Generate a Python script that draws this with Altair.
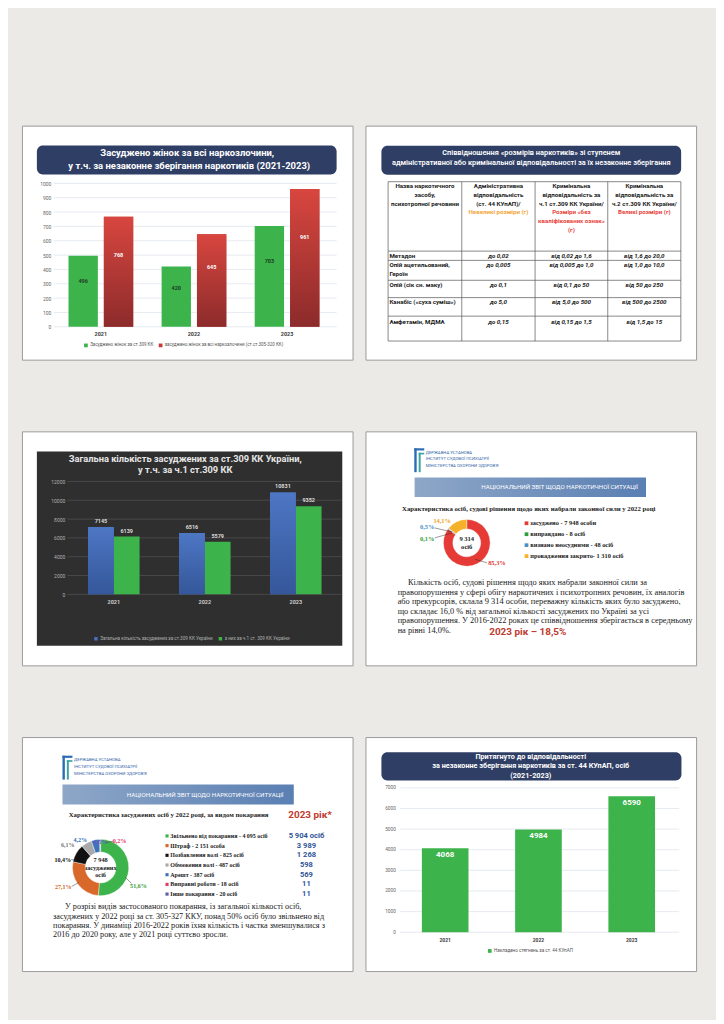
import altair as alt
import pandas as pd

SANS = "Roboto"
SERIF = "Liberation Serif"
NAVY = "#2f3e64"
W, H = 332, 235

# ------------------------------------------------------------------ data
years = ["2021", "2022", "2023"]

# slide 1
s1_title = ["Засуджено жінок за всі наркозлочини,",
            "у т.ч. за незаконне зберігання наркотиків (2021-2023)"]
s1_series = ["Засуджено жінок за ст.309 КК",
             "засуджено жінок за всі наркозлочини  (ст.ст.305-320 КК)"]
s1_green = [496, 420, 703]
s1_red = [768, 645, 961]
s1_ticks = [0, 100, 200, 300, 400, 500, 600, 700, 800, 900, 1000]

# slide 2
s2_title = ["Співвідношення «розмірів наркотиків» зі ступенем",
            "адміністративної або кримінальної відповідальності за їх незаконне зберігання"]
s2_head1 = ["Назва наркотичного", "засобу,", "психотропної речовини"]
s2_head2 = ["Адміністративна", "відповідальність", "(ст. 44 КУпАП)/", "Невеликі розміри (г)"]
s2_head3 = ["Кримінальна", "відповідальність за", "ч.1 ст.309 КК України/",
            "Розміри «без", "кваліфікованих ознак»", "(г)"]
s2_head4 = ["Кримінальна", "відповідальність за", "ч.2 ст.309 КК України/", "Великі розміри (г)"]
s2_subst = [["Метадон"], ["Опій ацетильований,", "Героїн"], ["Опій (сік сн. маку)"],
            ["Канабіс («суха суміш»)"], ["Амфетамін, МДМА"]]
s2_adm = ["до 0,02", "до 0,005", "до 0,1", "до 5,0", "до 0,15"]
s2_crim1 = ["від 0,02 до 1,6", "від 0,005 до 1,0", "від  0,1 до 50", "від  5,0 до 500", "від 0,15 до 1,5"]
s2_crim2 = ["від 1,6 до 20,0", "від 1,0 до 10,0", "від 50 до 250", "від 500 до 2500", "від 1,5 до 15"]

# slide 3
s3_title = ["Загальна кількість засуджених за ст.309 КК України,", "у т.ч. за ч.1 ст.309  КК"]
s3_series = ["Загальна кількість засуджених за ст.309 КК України", "з них за ч.1 ст. 309 КК України"]
s3_total = [7145, 6516, 10831]
s3_part1 = [6139, 5579, 9352]
s3_ticks = [0, 2000, 4000, 6000, 8000, 10000, 12000]

# slides 4 and 5 (report pages)
logo_lines = ["ДЕРЖАВНА УСТАНОВА", "ІНСТИТУТ СУДОВОЇ ПСИХІАТРІЇ", "МІНІСТЕРСТВА ОХОРОНИ ЗДОРОВ'Я"]
report_banner = "НАЦІОНАЛЬНИЙ ЗВІТ ЩОДО НАРКОТИЧНОЇ СИТУАЦІЇ"

s4_heading = "Характеристика осіб, судові рішення щодо яких набрали законної сили у 2022 році"
s4_cats = ["засуджено - 7 948 особи", "виправдано - 8 осіб",
           "визнано неосудними - 48 осіб", "провадження закрито- 1 310 осіб"]
s4_counts = [7948, 8, 48, 1310]
s4_pct = ["85,3%", "0,1%", "0,5%", "14,1%"]
s4_center = ["9 314", "осіб"]
s4_para = [
    "Кількість осіб, судові рішення щодо яких набрали законної сили за",
    "правопорушення у сфері обігу наркотичних і психотропних речовин, їх аналогів",
    "або прекурсорів, склала 9 314 особи, переважну кількість яких було засуджено,",
    "що складає 16,0 % від загальної кількості засуджених по Україні за усі",
    "правопорушення. У 2016-2022 роках це співвідношення зберігається в середньому",
    "на рівні 14,0%.",
]
s4_highlight = "2023 рік – 18,5%"

s5_heading = "Характеристика засуджених осіб у 2022 році, за видом покарання"
s5_badge = "2023 рік*"
s5_cats = ["Звільнено від покарання - 4 095 осіб", "Штраф - 2 151 особа",
           "Позбавлення волі - 825 осіб", "Обмеження волі - 487 осіб", "Арешт - 387 осіб",
           "Виправні роботи - 18 осіб", "Інше покарання - 20 осіб"]
s5_counts = [4095, 2151, 825, 487, 387, 18, 20]
s5_pct = ["51,6%", "27,1%", "10,4%", "6,1%", "4,2%", "0,2%", "0,5%"]
s5_2023 = ["5 904 осіб", "3 989", "1 268", "598", "569", "11", "11"]
s5_center = ["7 948", "засуджених", "осіб"]
s5_para = [
    "У розрізі видів застосованого покарання, із загальної кількості осіб,",
    "засуджених у 2022 році за ст. 305-327 ККУ, понад 50% осіб було звільнено від",
    "покарання. У динаміці 2016-2022 років їхня кількість і частка зменшувалися з",
    "2016 до 2020 року, але у 2021 році суттєво зросли.",
]

# slide 6
s6_title = ["Притягнуто до відповідальності",
            "за  незаконне зберігання наркотиків за ст. 44  КУпАП, осіб", "(2021-2023)"]
s6_series = ["Накладено стягнень за ст. 44 КУпАП"]
s6_values = [4068, 4984, 6590]
s6_ticks = [0, 1000, 2000, 3000, 4000, 5000, 6000, 7000]

# ------------------------------------------------------------------ helpers
ONE = pd.DataFrame({"k": [0]})


def txt(x, y, s, size=6.0, color="#222222", font=SANS, weight="normal", align="center", style="normal"):
    return alt.Chart(ONE).mark_text(
        fontSize=size, color=color, font=font, fontWeight=weight, align=align,
        baseline="middle", fontStyle=style
    ).encode(x=alt.value(x), y=alt.value(y), text=alt.value(s))


def box(x, x2, y, y2, color, **kw):
    return alt.Chart(ONE).mark_rect(color=color, **kw).encode(
        x=alt.value(x), x2=alt.value(x2), y=alt.value(y), y2=alt.value(y2))


def line(x, x2, y, y2, color="#444444", w=0.6):
    return alt.Chart(ONE).mark_rule(color=color, strokeWidth=w).encode(
        x=alt.value(x), x2=alt.value(x2), y=alt.value(y), y2=alt.value(y2))


def vgrad(c0, c1):
    return alt.Gradient(gradient="linear", x1=0, x2=0, y1=0, y2=1,
                        stops=[alt.GradientStop(color=c0, offset=0), alt.GradientStop(color=c1, offset=1)])


def hgrad(c0, c1):
    return alt.Gradient(gradient="linear", x1=0, x2=1, y1=0, y2=0,
                        stops=[alt.GradientStop(color=c0, offset=0), alt.GradientStop(color=c1, offset=1)])


# ------------------------------------------------------------------ slide 1
df1 = pd.DataFrame({"year": years * 2,
                    "series": [s1_series[0]] * 3 + [s1_series[1]] * 3,
                    "value": s1_green + s1_red})
g1 = pd.DataFrame({"t": s1_ticks})
xs1 = alt.Scale(domain=years, range=[32.5, 313], paddingInner=0.305, paddingOuter=0.1525)
xos1 = alt.Scale(domain=s1_series, paddingInner=0.17, paddingOuter=0)
ys1 = alt.Scale(domain=[0, 1000], range=[202, 58], nice=False)
xax1 = alt.Axis(orient="bottom", offset=-30, domain=False, ticks=False, labelPadding=1.5,
                labelFontSize=5.5, labelFontWeight="bold", labelColor="#404040", labelFont=SANS,
                labelAngle=0, title=None, grid=False, zindex=1)
yax1 = alt.Axis(orient="left", offset=-31, values=s1_ticks, format="d", domain=False, ticks=False,
                grid=False, labelPadding=2, labelFontSize=5, labelColor="#666666", labelFont=SANS,
                title=None, zindex=1)
X1 = alt.X("year:N", scale=xs1, axis=xax1)
XO1 = alt.XOffset("series:N", scale=xos1)
Y1 = alt.Y("value:Q", scale=ys1, axis=yax1)

s1_layers = [
    box(15, 316, 20, 49, NAVY, cornerRadius=6),
    txt(166, 27.5, s1_title[0], 9.5, "white", weight="bold"),
    txt(168, 40.5, s1_title[1], 9.5, "white", weight="bold"),
    alt.Chart(g1).mark_rule(color="#d5dbe8", strokeWidth=0.6).encode(
        y=alt.Y("t:Q", scale=ys1, axis=yax1), x=alt.value(32), x2=alt.value(316)),
    alt.Chart(df1).mark_bar().encode(
        x=X1, xOffset=XO1, y=Y1,
        color=alt.Color("series:N", scale=alt.Scale(domain=s1_series, range=["#3cb44b", "#c63b36"]),
                        legend=alt.Legend(orient="none", legendX=62, legendY=218, direction="horizontal",
                                          title=None, symbolType="square", symbolSize=14,
                                          symbolStrokeWidth=0, labelFontSize=4.5, labelColor="#555555",
                                          labelFont=SANS, columnPadding=4, labelLimit=0, labelOffset=2))),
    alt.Chart(df1).transform_filter(alt.datum.series == s1_series[1]).mark_bar(
        color=vgrad("#d8463f", "#8c2b2b")).encode(x=X1, xOffset=XO1, y=Y1),
    alt.Chart(df1).transform_calculate(ly="datum.value * 0.65").mark_text(
        font=SANS, fontSize=5.5, fontWeight="bold").encode(
        x=X1, xOffset=XO1, y=alt.Y("ly:Q", scale=ys1, axis=yax1), text="value:Q",
        fill=alt.Fill("series:N", scale=alt.Scale(domain=s1_series, range=["#1e3b23", "#ffffff"]),
                      legend=None)),
]
slide1 = alt.layer(*s1_layers).properties(width=W, height=H)

# ------------------------------------------------------------------ slide 2
ORANGE = "#f2a73b"
RED = "#e8423a"
col_x = [22.7, 96.7, 170.3, 243.3, 316.7]
row_y = [56.3, 126, 135.3, 155.3, 172.7, 191.3, 216.3]
HEAD_Y0, HEAD_LH = 60.5, 8.9
BODY_Y = [130.6, 140.3, 160.3, 177, 197]

s2_layers = [box(16, 317, 20.3, 49.3, NAVY, cornerRadius=6),
             txt(166.5, 27.5, s2_title[0], 7.4, "white", weight=600),
             txt(166.5, 37.5, s2_title[1], 7.4, "white", weight=600)]
for xv in col_x:
    s2_layers.append(line(xv, xv, row_y[0], row_y[-1], "#555555", 0.7))
for yv in row_y:
    s2_layers.append(line(col_x[0], col_x[-1], yv, yv, "#555555", 0.7))
for c, lines in enumerate([s2_head1, s2_head2, s2_head3, s2_head4]):
    cx = (col_x[c] + col_x[c + 1]) / 2
    for i, s in enumerate(lines):
        color = "#1a1a1a"
        if c == 1 and i >= 3:
            color = ORANGE
        if c >= 2 and i >= 3:
            color = RED
        s2_layers.append(txt(cx, HEAD_Y0 + i * HEAD_LH, s, 6.2, color, weight="bold"))
for r in range(5):
    yb = BODY_Y[r]
    for j, s in enumerate(s2_subst[r]):
        s2_layers.append(txt(24, yb + j * 8.4, s, 6.2, "#1a1a1a", weight="bold", align="left"))
    for c, arr in enumerate([s2_adm, s2_crim1, s2_crim2]):
        cx = (col_x[c + 1] + col_x[c + 2]) / 2
        s2_layers.append(txt(cx, yb, arr[r], 6.2, "#1a1a1a", weight="bold", style="italic"))
slide2 = alt.layer(*s2_layers).properties(width=W, height=H)

# ------------------------------------------------------------------ slide 3
df3 = pd.DataFrame({"year": years * 2,
                    "series": [s3_series[0]] * 3 + [s3_series[1]] * 3,
                    "value": s3_total + s3_part1})
g3 = pd.DataFrame({"t": s3_ticks})
xs3 = alt.Scale(domain=years, range=[46.6, 320.7], paddingInner=0.434, paddingOuter=0.217)
xos3 = alt.Scale(domain=s3_series, paddingInner=0, paddingOuter=0)
ys3 = alt.Scale(domain=[0, 12000], range=[163.7, 50.3], nice=False)
xax3 = alt.Axis(orient="bottom", offset=-71, domain=False, ticks=False, labelPadding=4.5,
                labelFontSize=5.5, labelFontWeight="bold", labelColor="#c8c8c8", labelFont=SANS,
                labelAngle=0, title=None, grid=False, zindex=1)
yax3 = alt.Axis(orient="left", offset=-45, values=s3_ticks, format="d", domain=False, ticks=False,
                grid=False, labelPadding=2, labelFontSize=5, labelColor="#b0b0b0", labelFont=SANS,
                title=None, zindex=1)
X3 = alt.X("year:N", scale=xs3, axis=xax3)
XO3 = alt.XOffset("series:N", scale=xos3)
Y3 = alt.Y("value:Q", scale=ys3, axis=yax3)

s3_layers = [
    box(15, 321.7, 20.3, 215.3, "#2f2f2f"),
    txt(164, 27.5, s3_title[0], 9.3, "#e6e6e6", weight="bold"),
    txt(164, 38.5, s3_title[1], 9.3, "#e6e6e6", weight="bold"),
    alt.Chart(g3).mark_rule(color="#5a5a5a", strokeWidth=0.6).encode(
        y=alt.Y("t:Q", scale=ys3, axis=yax3), x=alt.value(45.7), x2=alt.value(320.7)),
    alt.Chart(df3).mark_bar().encode(
        x=X3, xOffset=XO3, y=Y3,
        color=alt.Color("series:N", scale=alt.Scale(domain=s3_series, range=["#4a70bd", "#3cb44b"]),
                        legend=alt.Legend(orient="none", legendX=72, legendY=205.5, direction="horizontal",
                                          title=None, symbolType="square", symbolSize=12,
                                          symbolStrokeWidth=0, labelFontSize=4.6, labelColor="#b0b0b0",
                                          labelFont=SANS, columnPadding=5, labelLimit=0, labelOffset=2,
                                          zindex=1))),
    alt.Chart(df3).transform_filter(alt.datum.series == s3_series[0]).mark_bar(
        color=vgrad("#4d76c4", "#35579a")).encode(x=X3, xOffset=XO3, y=Y3),
    alt.Chart(df3).mark_text(font=SANS, fontSize=5.5, fontWeight="bold", dy=-6, color="#d9d9d9").encode(
        x=X3, xOffset=XO3, y=Y3, text="value:Q"),
]
slide3 = alt.layer(*s3_layers).properties(width=W, height=H)


# ------------------------------------------------------------------ report page helpers
def logo(x0, y0):
    return [
        box(x0, x0 + 2.4, y0, y0 + 24, "#2c6cb3"),
        box(x0, x0 + 10, y0, y0 + 2.2, "#2c6cb3"),
        box(x0 + 4.4, x0 + 6.4, y0 + 4.5, y0 + 24, "#3aa5a5"),
        box(x0 + 4.4, x0 + 10, y0 + 4.5, y0 + 6.2, "#3aa5a5"),
    ]


def logo_text(x, y0):
    return [txt(x, y0 + i * 6.9, s, 4.3, "#2f64a8", align="left") for i, s in enumerate(logo_lines)]


def report_band(x, x2, y, y2, tx):
    ym = (y + y2) / 2
    return [box(x, x2, y, y2, hgrad("#8ea7c8", "#5a7fb3")),
            txt(tx, ym, report_banner, 6.2, "white")]


# ------------------------------------------------------------------ slide 4
df4 = pd.DataFrame({"cat": s4_cats, "n": s4_counts, "i": list(range(len(s4_cats)))})
col4 = alt.Scale(domain=s4_cats, range=["#e53a35", "#2e9e3e", "#4a90c8", "#f6b12a"])
ly4 = alt.Scale(type="point", domain=s4_cats, range=[92.3, 125.3], padding=0)
pct4_pos = [(132, 132.5), (62, 108), (62, 96.5), (77, 89.7)]
pct4_col = ["#e53a35", "#2e9e3e", "#4a90c8", "#f0a020"]

s4_layers = logo(49, 17) + logo_text(60.5, 21.3) + report_band(49.3, 281.7, 46.3, 66, 195)
s4_layers += [
    txt(164, 77.5, s4_heading, 6.8, "#1a1a1a", font=SERIF, weight="bold"),
    alt.Chart(df4).mark_arc(radius=23.5, radius2=14, stroke="white", strokeWidth=0.4).encode(
        theta=alt.Theta("n:Q", stack=True), order=alt.Order("i:Q"),
        color=alt.Color("cat:N", scale=col4, legend=None),
        x=alt.value(101.7), y=alt.value(112)),
    txt(101.7, 108, s4_center[0], 6.6, "#1a1a1a", font=SERIF, weight="bold"),
    txt(101.7, 116.3, s4_center[1], 6.6, "#1a1a1a", font=SERIF, weight="bold"),
    line(69.5, 87, 97, 101, "#333333", 0.5),
    line(69.5, 87, 107, 102, "#333333", 0.5),
    line(110, 122, 128.5, 132, "#333333", 0.5),
    alt.Chart(df4).mark_square(size=14, opacity=1).encode(
        x=alt.value(161.7), y=alt.Y("cat:N", scale=ly4, axis=None),
        color=alt.Color("cat:N", scale=col4, legend=None)),
    alt.Chart(df4).mark_text(align="left", baseline="middle", font=SERIF, fontWeight="bold",
                             fontSize=6.4, color="#1a1a1a").encode(
        x=alt.value(165.5), y=alt.Y("cat:N", scale=ly4, axis=None), text="cat:N"),
]
for (px, py), s, c in zip(pct4_pos, s4_pct, pct4_col):
    s4_layers.append(txt(px, py, s, 6.4, c, font=SERIF, weight="bold"))
for i, s in enumerate(s4_para):
    s4_layers.append(txt(42.7 if i == 0 else 32.3, 151.3 + i * 9.6, s, 8.4, "#1a1a1a",
                         font=SERIF, align="left"))
s4_layers.append(txt(163, 202, s4_highlight, 10, "#bf3a30", weight="bold"))
slide4 = alt.layer(*s4_layers).properties(width=W, height=H)

# ------------------------------------------------------------------ slide 5
df5 = pd.DataFrame({"cat": s5_cats, "n": s5_counts, "v23": s5_2023, "i": list(range(len(s5_cats)))})
col5 = alt.Scale(domain=s5_cats, range=["#3cb44b", "#d8692b", "#111111", "#a9a9a9", "#3f73b8",
                                         "#e83a6a", "#5b5ea6"])
ly5 = alt.Scale(type="point", domain=s5_cats, range=[99.3, 157.7], padding=0)
pct5_pos = [(117, 149.5), (41.5, 151), (41, 123), (46, 108.7), (58.5, 103), (98, 104.3), (79, 105.5)]
pct5_col = ["#3a9e3a", "#d2691e", "#111111", "#777777", "#2f6fb5", "#e8336a", "#6a5acd"]

s5_layers = logo(40.7, 18.7) + logo_text(52.3, 23) + report_band(40.7, 273, 47.7, 67.7, 184)
s5_layers += [
    txt(147.3, 78.7, s5_heading, 6.8, "#1a1a1a", font=SERIF, weight="bold"),
    txt(289.3, 78.7, s5_badge, 10, "#bf3a30", weight="bold"),
    alt.Chart(df5).mark_arc(radius=28.3, radius2=15.5, stroke="white", strokeWidth=0.4).encode(
        theta=alt.Theta("n:Q", stack=True), order=alt.Order("i:Q"),
        color=alt.Color("cat:N", scale=col5, legend=None),
        x=alt.value(79), y=alt.value(131)),
    txt(79, 123.7, s5_center[0], 6.3, "#1a1a1a", font=SERIF, weight="bold"),
    txt(79, 131.5, s5_center[1], 6.3, "#1a1a1a", font=SERIF, weight="bold"),
    txt(79, 139, s5_center[2], 6.3, "#1a1a1a", font=SERIF, weight="bold"),
    line(104, 110, 141, 147, "#333333", 0.5),
    line(50, 57, 150, 146, "#333333", 0.5),
    line(49.5, 55, 123, 124, "#333333", 0.5),
    line(92, 84, 104.5, 106, "#333333", 0.5),
    alt.Chart(df5).mark_square(size=10, opacity=1).encode(
        x=alt.value(145.7), y=alt.Y("cat:N", scale=ly5, axis=None),
        color=alt.Color("cat:N", scale=col5, legend=None)),
    alt.Chart(df5).mark_text(align="left", baseline="middle", font=SERIF, fontWeight="bold",
                             fontSize=6.0, color="#1a1a1a").encode(
        x=alt.value(149), y=alt.Y("cat:N", scale=ly5, axis=None), text="cat:N"),
    alt.Chart(df5).mark_text(align="center", baseline="middle", font=SANS, fontWeight="bold",
                             fontSize=7.6, color="#2f5597").encode(
        x=alt.value(285.7), y=alt.Y("cat:N", scale=ly5, axis=None), text="v23:N"),
]
for (px, py), s, c in zip(pct5_pos, s5_pct, pct5_col):
    s5_layers.append(txt(px, py, s, 6.1, c, font=SERIF, weight="bold"))
for i, s in enumerate(s5_para):
    s5_layers.append(txt(43.3 if i == 0 else 31.3, 171 + i * 9.25, s, 8.2, "#1a1a1a",
                         font=SERIF, align="left"))
slide5 = alt.layer(*s5_layers).properties(width=W, height=H)

# ------------------------------------------------------------------ slide 6
df6 = pd.DataFrame({"year": years, "series": s6_series * 3, "value": s6_values})
g6 = pd.DataFrame({"t": s6_ticks})
xs6 = alt.Scale(domain=years, range=[33.2, 314.2], paddingInner=0.5, paddingOuter=0.25)
ys6 = alt.Scale(domain=[0, 7000], range=[196, 51], nice=False)
xax6 = alt.Axis(orient="bottom", offset=-39, domain=False, ticks=False, labelPadding=5,
                labelFontSize=5, labelFontWeight="bold", labelColor="#404040", labelFont=SANS,
                labelAngle=0, title=None, grid=False, zindex=1)
yax6 = alt.Axis(orient="left", offset=-32, values=s6_ticks, format="d", domain=False, ticks=False,
                grid=False, labelPadding=2, labelFontSize=4.8, labelColor="#666666", labelFont=SANS,
                title=None, zindex=1)
X6 = alt.X("year:N", scale=xs6, axis=xax6)
Y6 = alt.Y("value:Q", scale=ys6, axis=yax6)

s6_layers = [
    box(16, 317.3, 15.3, 43.7, NAVY, cornerRadius=6),
    txt(166, 20, s6_title[0], 7.3, "white", weight="bold"),
    txt(166, 29.5, s6_title[1], 7.3, "white", weight="bold"),
    txt(166, 39, s6_title[2], 7.3, "white", weight="bold"),
    alt.Chart(g6).mark_rule(color="#d5dbe8", strokeWidth=0.6).encode(
        y=alt.Y("t:Q", scale=ys6, axis=yax6), x=alt.value(35), x2=alt.value(315)),
    alt.Chart(df6).mark_bar().encode(
        x=X6, y=Y6,
        color=alt.Color("series:N", scale=alt.Scale(domain=s6_series, range=["#3cb44b"]),
                        legend=alt.Legend(orient="none", legendX=122.5, legendY=212.5,
                                          direction="horizontal", title=None, symbolType="square",
                                          symbolSize=14, symbolStrokeWidth=0, labelFontSize=4.6,
                                          labelColor="#555555", labelFont=SANS, labelLimit=0,
                                          labelOffset=2))),
    alt.Chart(df6).mark_text(font=SANS, fontSize=8, fontWeight="bold", dy=7, color="white").encode(
        x=X6, y=Y6, text="value:Q"),
]
slide6 = alt.layer(*s6_layers).properties(width=W, height=H)

# ------------------------------------------------------------------ page
RES = dict(color="independent", fill="independent", x="independent", y="independent",
           xOffset="independent", theta="independent")
row1 = alt.hconcat(slide1, slide2, spacing=11).resolve_scale(**RES)
row2 = alt.hconcat(slide3, slide4, spacing=11).resolve_scale(**RES)
row3 = alt.hconcat(slide5, slide6, spacing=11).resolve_scale(**RES)

chart = alt.vconcat(row1, row2, row3, spacing=70).resolve_scale(**RES).properties(
    background="#eceae6",
    padding={"left": 13, "top": 115, "right": 19, "bottom": 46},
).configure_view(stroke="#9a9a9a", strokeWidth=1, fill="white")

chart.save("out.html", embed_options={"renderer": "svg", "actions": False})
